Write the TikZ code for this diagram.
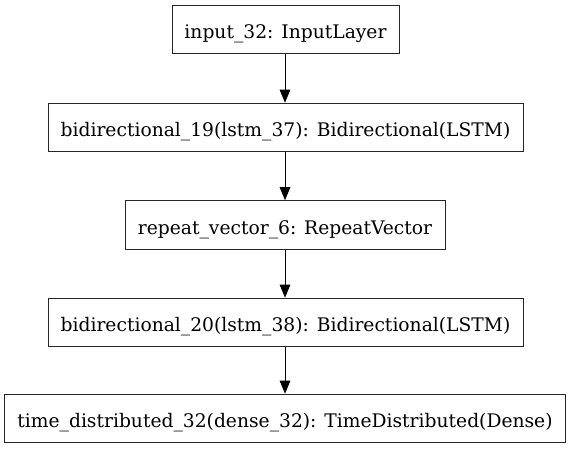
\documentclass[tikz,border=0pt]{standalone}
\usepackage{fontspec}
\setmainfont{DejaVu Serif}
\usetikzlibrary{arrows.meta}
\begin{document}
\begin{tikzpicture}[x=1pt,y=1pt,
  layer/.style={draw=black!85, line width=1pt, inner sep=0pt, text height=18.4pt, text depth=0pt,
    font=\fontsize{18.7}{22}\selectfont, minimum height=48.5pt},
  flow/.style={draw=black, line width=1pt, -{Triangle[length=13pt,width=10.5pt]}}]
\useasboundingbox (0,0) rectangle (571,-449);
\node[layer, minimum width=227pt] (a) at (285.5,-29.5) {input\_32: InputLayer};
\node[layer, minimum width=475pt] (b) at (285.5,-127.5) {bidirectional\_19(lstm\_37): Bidirectional(LSTM)};
\node[layer, minimum width=320pt] (c) at (285,-225) {repeat\_vector\_6: RepeatVector};
\node[layer, minimum width=475pt] (d) at (285.5,-322.5) {bidirectional\_20(lstm\_38): Bidirectional(LSTM)};
\node[layer, minimum width=561pt] (e) at (285,-418.5) {time\_distributed\_32(dense\_32): TimeDistributed(Dense)};
\draw[flow] (a.south -| 285,0) -- (b.north -| 285,0);
\draw[flow] (b.south -| 285,0) -- (c.north -| 285,0);
\draw[flow] (c.south -| 285,0) -- (d.north -| 285,0);
\draw[flow] (d.south -| 285,0) -- (e.north -| 285,0);
\end{tikzpicture}
\end{document}
